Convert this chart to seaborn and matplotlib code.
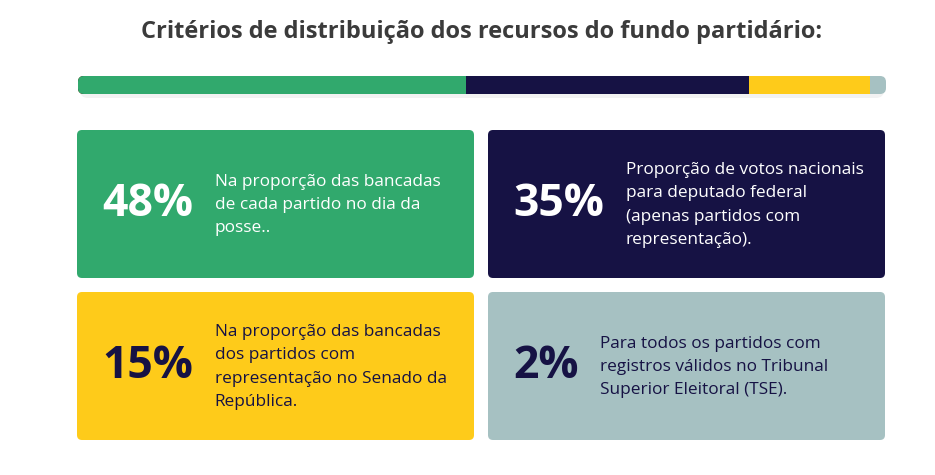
import pandas as pd
import seaborn as sns
import matplotlib.pyplot as plt
from matplotlib.patches import FancyBboxPatch

# Data
title = "Critérios de distribuição dos recursos do fundo partidário:"
criteria = ["Bancadas na posse", "Votos para deputado federal",
            "Bancadas no Senado", "Partidos com registro no TSE"]
shares = [48, 35, 15, 2]
share_labels = ["48%", "35%", "15%", "2%"]
descriptions = [
    "Na proporção das bancadas\nde cada partido no dia da\nposse..",
    "Proporção de votos nacionais\npara deputado federal\n(apenas partidos com\nrepresentação).",
    "Na proporção das bancadas\ndos partidos com\nrepresentação no Senado da\nRepública.",
    "Para todos os partidos com\nregistros válidos no Tribunal\nSuperior Eleitoral (TSE).",
]
colors = ["#31a96d", "#161244", "#fecb1a", "#a6c1c2"]
text_colors = ["white", "white", "#161244", "#161244"]

sns.set_theme(style="white")
plt.rcParams['font.family'] = ['Open Sans', 'DejaVu Sans']

W, H = 935, 475
fig = plt.figure(figsize=(W / 100, H / 100), dpi=100)

# background axes in pixel coordinates
ax = fig.add_axes([0, 0, 1, 1])
ax.set_xlim(0, W)
ax.set_ylim(H, 0)
ax.axis('off')

ax.text(482, 32, title, ha='center', va='center', fontsize=17,
        weight='bold', color='#3b3b3b')

# stacked bar (cumulative overlapping bars)
bar_x0, bar_y0, bar_w, bar_h = 78, 76, 808, 18
shadow = FancyBboxPatch((bar_x0 + 2, bar_y0 + 4), bar_w - 4, bar_h,
                        boxstyle="round,pad=0,rounding_size=8",
                        fc='#f2f2f2', ec='none', zorder=0)
ax.add_patch(shadow)
clip = FancyBboxPatch((bar_x0, bar_y0), bar_w, bar_h,
                      boxstyle="round,pad=0,rounding_size=6",
                      fc='none', ec='none', transform=ax.transData)
ax.add_patch(clip)

bax = fig.add_axes([bar_x0 / W, (H - bar_y0 - bar_h) / H, bar_w / W, bar_h / H])
df = pd.DataFrame({"criterio": criteria, "share": shares, "color": colors})
df["cum"] = df["share"].cumsum()
for _, row in df.iloc[::-1].iterrows():
    sns.barplot(x=[row["cum"]], y=["total"], color=row["color"], saturation=1,
                width=1, orient="h", ax=bax)
for p in bax.patches:
    p.set_clip_path(clip)
    p.set_edgecolor('none')
bax.set_xlim(0, 100)
bax.set_ylim(0.5, -0.5)
bax.axis('off')

# cards
card_w, card_h = 397, 148
card_pos = [(77, 130), (488, 130), (77, 292), (488, 292)]
renderer = fig.canvas.get_renderer()
for i in range(4):
    cx, cy = card_pos[i]
    card = FancyBboxPatch((cx, cy), card_w, card_h,
                          boxstyle="round,pad=0,rounding_size=5",
                          fc=colors[i], ec='none', zorder=1)
    ax.add_patch(card)
    mid = cy + card_h / 2
    t = ax.text(cx + 25, mid + 1, share_labels[i], ha='left', va='center',
                fontsize=32, weight='bold', color=text_colors[i], zorder=2)
    bb = t.get_window_extent(renderer)
    right = ax.transData.inverted().transform((bb.x1, bb.y0))[0]
    ax.text(right + 22, mid + 1, descriptions[i], ha='left', va='center',
            fontsize=12.4, color=text_colors[i], linespacing=1.6, zorder=2)

fig.savefig("out.png", dpi=100)
